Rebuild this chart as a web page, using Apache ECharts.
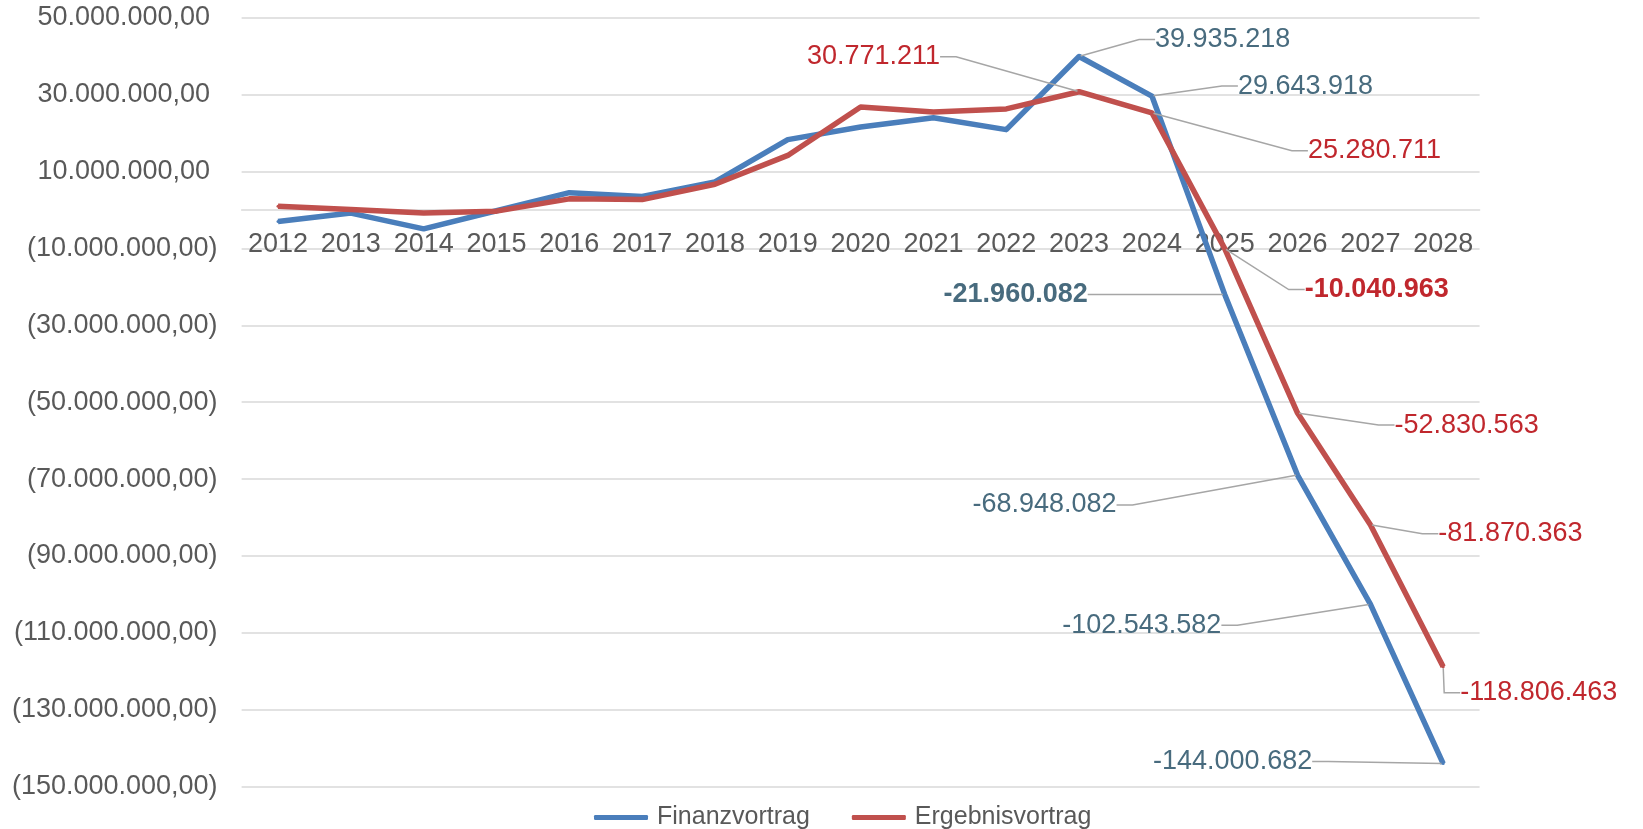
<!DOCTYPE html>
<html>
<head>
<meta charset="utf-8">
<script src="https://cdn.jsdelivr.net/npm/echarts@6/dist/echarts.min.js"></script>
<style>
  html, body { margin: 0; padding: 0; background: #ffffff; }
  #chart { width: 1643px; height: 829px; }
</style>
</head>
<body>
<div id="chart"></div>
<script>
// ---------------- DATA ----------------
const years = ['2012','2013','2014','2015','2016','2017','2018','2019','2020','2021','2022','2023','2024','2025','2026','2027','2028'];
const finanzvortrag = [-3000000, -800000, -4900000, -200000, 4500000, 3500000, 7300000, 18300000, 21600000, 24000000, 20900000,
  39935218, 29643918, -21960082, -68948082, -102543582, -144000682];
const ergebnisvortrag = [1000000, 100000, -800000, -300000, 2900000, 2700000, 6700000, 14200000, 26800000, 25500000, 26300000,
  30771211, 25280711, -10040963, -52830563, -81870363, -118806463];
const yTicks = [-150000000, -130000000, -110000000, -90000000, -70000000, -50000000, -30000000, -10000000, 10000000, 30000000, 50000000];
const labeledIndices = [11, 12, 13, 14, 15, 16];
const seriesNames = ['Finanzvortrag', 'Ergebnisvortrag'];

// ---------------- STYLE / LABEL PLACEMENT ----------------
const FONT = '"Liberation Sans", Arial, sans-serif';
const lineColors = ['#4a7ebb', '#c0504d'];
const labelColors = ['#486b7e', '#c0272d'];
const GRID = { left: 241.6, right: 163.4, top: 17.8, bottom: 42.4 };
const PLOT_H = 829 - GRID.top - GRID.bottom;
const Y_MIN = -150000000, Y_MAX = 50000000;
// label offsets relative to the data point (styling only)
const labelPlacement = {
  '0-11': { dx: 70, dy: -17, align: 'left' },
  '0-12': { dx: 80, dy: -10, align: 'left' },
  '0-13': { dx: -131, dy: 0, align: 'right', bold: true },
  '0-14': { dx: -175, dy: 30, align: 'right' },
  '0-15': { dx: -143, dy: 21, align: 'right' },
  '0-16': { dx: -125, dy: -2, align: 'right' },
  '1-11': { dx: -133, dy: -35, align: 'right' },
  '1-12': { dx: 150, dy: 38, align: 'left' },
  '1-13': { dx: 74, dy: 41, align: 'left', bold: true },
  '1-14': { dx: 91, dy: 12, align: 'left' },
  '1-15': { dx: 62, dy: 9, align: 'left' },
  '1-16': { dx: 11, dy: 26, align: 'left' }
};

function groupThousands(intStr) {
  return intStr.replace(/\B(?=(\d{3})+(?!\d))/g, '.');
}
function fmtAxis(v) {
  const a = Math.abs(v).toFixed(2).split('.');
  const s = groupThousands(a[0]) + ',' + a[1];
  return v < 0 ? '(' + s + ')' : s + '\u2008';
}
function fmtLabel(v) {
  const sign = v < 0 ? '-' : '';
  return sign + groupThousands(String(Math.round(Math.abs(v))));
}

function buildData(values, sIdx) {
  return values.map(function (v, i) {
    if (labeledIndices.indexOf(i) >= 0) {
      const p = labelPlacement[sIdx + '-' + i];
      return {
        value: v,
        label: { show: true, fontWeight: p && p.bold ? 'bold' : 'normal' }
      };
    }
    return v;
  });
}

const chart = echarts.init(document.getElementById('chart'), null, { renderer: 'canvas' });

function makeSeries(sIdx, values) {
  return {
    name: seriesNames[sIdx],
    type: 'line',
    data: buildData(values, sIdx),
    symbol: 'circle',
    symbolSize: 3,
    showSymbol: true,
    lineStyle: { color: lineColors[sIdx], width: 5.5, join: 'round' },
    itemStyle: { color: lineColors[sIdx] },
    emphasis: { disabled: true },
    z: 3 + sIdx,
    label: {
      show: false,
      color: labelColors[sIdx],
      fontFamily: FONT,
      fontSize: 27,
      padding: [0, 6],
      formatter: function (p) { return fmtLabel(p.value); }
    },
    labelLine: {
      show: true,
      length2: 16,
      lineStyle: { color: '#a6a6a6', width: 1.5 }
    },
    labelLayout: function (params) {
      const p = labelPlacement[params.seriesIndex + '-' + params.dataIndex];
      if (!p) return {};
      const cx = params.rect.x + params.rect.width / 2;
      const cy = params.rect.y + params.rect.height / 2;
      return { x: cx + p.dx, y: cy + p.dy, align: p.align, verticalAlign: 'middle' };
    }
  };
}

// offset that moves the category axis up to the zero value line
const zeroOffset = -PLOT_H * (0 - Y_MIN) / (Y_MAX - Y_MIN);

chart.setOption({
  backgroundColor: '#ffffff',
  animation: false,
  grid: { left: GRID.left, right: GRID.right, top: GRID.top, bottom: GRID.bottom, containLabel: false },
  legend: {
    data: seriesNames,
    top: 800,
    left: 589,
    icon: 'roundRect',
    itemWidth: 54,
    itemHeight: 5,
    itemGap: 42,
    textStyle: { color: '#595959', fontFamily: FONT, fontSize: 25, padding: [0, 0, 0, 4] }
  },
  xAxis: {
    type: 'category',
    data: years,
    boundaryGap: true,
    position: 'bottom',
    offset: zeroOffset,
    axisLine: { show: true, onZero: false, lineStyle: { color: '#d9d9d9', width: 1.5 } },
    axisTick: { show: false },
    axisLabel: { color: '#595959', fontFamily: FONT, fontSize: 27, margin: 21, interval: 0 },
    splitLine: { show: false }
  },
  yAxis: {
    type: 'value',
    min: Y_MIN,
    max: Y_MAX,
    axisLine: { show: false },
    axisTick: { show: false, customValues: yTicks },
    axisLabel: {
      customValues: yTicks,
      margin: 24,
      color: '#595959',
      fontFamily: FONT,
      fontSize: 27,
      formatter: fmtAxis
    },
    splitLine: { show: true, lineStyle: { color: '#d9d9d9', width: 1.5 } }
  },
  series: [makeSeries(0, finanzvortrag), makeSeries(1, ergebnisvortrag)]
});
</script>
</body>
</html>
